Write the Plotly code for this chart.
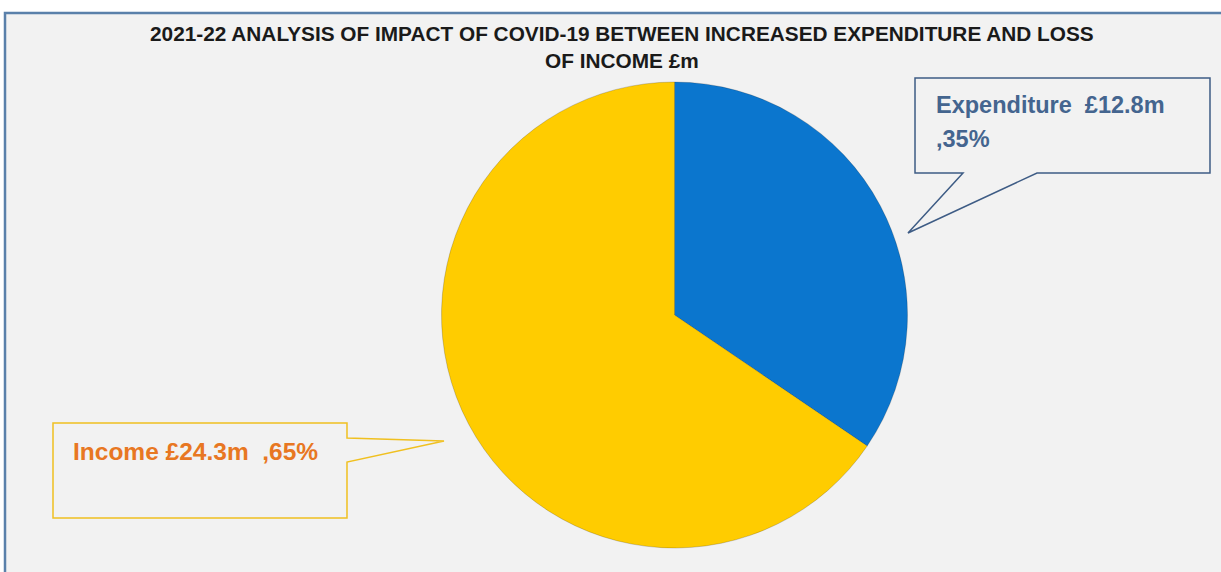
import plotly.graph_objects as go

# ---- data ----
labels = ["Expenditure", "Income"]
values = [12.8, 24.3]
colors = ["#0B76CE", "#FFCC00"]
title_text = "2021-22 ANALYSIS OF IMPACT OF COVID-19 BETWEEN INCREASED EXPENDITURE AND LOSS<br>OF INCOME £m"

W, H = 1221, 572
FONT = "'Liberation Sans', Arial, sans-serif"

def px(x):
    return x / W

def py(y):
    return 1 - y / H

total = sum(values)
pcts = [round(v / total * 100) for v in values]

fig = go.Figure()
fig.add_trace(go.Pie(
    labels=labels, values=values, sort=False, direction="clockwise", rotation=0,
    marker=dict(colors=colors, line=dict(color="rgba(0,0,0,0.18)", width=1)),
    textinfo="none", hoverinfo="label+value+percent", showlegend=False,
    domain=dict(x=[px(441), px(908)], y=[py(548), py(82)]),
))

shapes = []
# chart area background with border
shapes.append(dict(type="rect", xref="paper", yref="paper",
                   x0=px(5), x1=px(1230), y0=py(590), y1=py(13),
                   fillcolor="#F2F2F2", line=dict(color="#5A80AA", width=2.5), layer="below"))

def path(points):
    return "M " + " L ".join(f"{px(x):.5f},{py(y):.5f}" for x, y in points) + " Z"

# Expenditure callout (box + pointer)
exp_pts = [(915, 78), (1210, 78), (1210, 173), (1037, 173), (908, 233), (963, 173), (915, 173)]
shapes.append(dict(type="path", xref="paper", yref="paper", path=path(exp_pts),
                   fillcolor="#F2F2F2", line=dict(color="#3E5C85", width=1.5)))
# Income callout
inc_pts = [(53, 423), (347, 423), (347, 438), (444, 441), (347, 462), (347, 518), (53, 518)]
shapes.append(dict(type="path", xref="paper", yref="paper", path=path(inc_pts),
                   fillcolor="#F2F2F2", line=dict(color="#F0C020", width=1.5)))

annotations = [
    dict(text=f"<b>{labels[0]}  £{values[0]}m</b>", x=px(934), y=py(105), xref="paper", yref="paper",
         xanchor="left", yanchor="middle", showarrow=False,
         font=dict(family=FONT, size=23.5, color="#44658F")),
    dict(text=f"<b>,{pcts[0]}%</b>", x=px(934), y=py(139), xref="paper", yref="paper",
         xanchor="left", yanchor="middle", showarrow=False,
         font=dict(family=FONT, size=23.5, color="#44658F")),
    dict(text=f"<b>{labels[1]} £{values[1]}m  ,{pcts[1]}%</b>", x=px(71), y=py(451), xref="paper", yref="paper",
         xanchor="left", yanchor="middle", showarrow=False,
         font=dict(family=FONT, size=24.5, color="#E87722")),
    dict(text=f"<b>{title_text}</b>", x=px(622), y=py(47), xref="paper", yref="paper",
         xanchor="center", yanchor="middle", showarrow=False,
         font=dict(family=FONT, size=20.8, color="#1A1A1A")),
]

fig.update_layout(
    width=W, height=H, margin=dict(l=0, r=0, t=0, b=0),
    paper_bgcolor="white", plot_bgcolor="white",
    shapes=shapes, annotations=annotations,
)

fig.write_html("out.html", config={"displayModeBar": False},
               post_script="document.body.style.margin='0';document.body.style.overflow='hidden';")
